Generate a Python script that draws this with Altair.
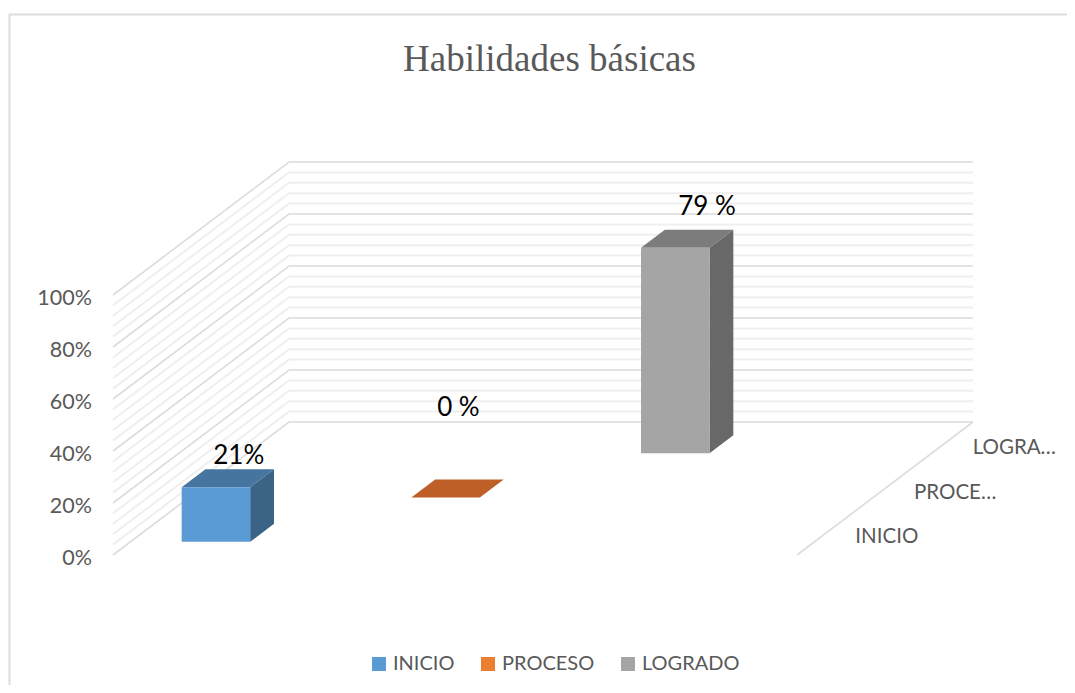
import altair as alt
import pandas as pd

# ---- chart values ----
series = ["INICIO", "PROCESO", "LOGRADO"]
values = [21, 0, 79]
value_labels = ["21%", "0 %", "79 %"]
depth_labels = ["INICIO", "PROCE…", "LOGRA…"]
major_ticks = [0, 20, 40, 60, 80, 100]
tick_labels = ["0%", "20%", "40%", "60%", "80%", "100%"]
minor_ticks = [v for v in range(0, 101, 4) if v % 20 != 0]
title_text = "Habilidades básicas"

front_colors = ["#5B9BD5", "#ED7D31", "#A5A5A5"]
top_colors = ["#46759F", "#BE5F27", "#7C7C7C"]
side_colors = ["#3A6385", "#9E4F20", "#686868"]

# ---- oblique projection of the 3D box ----
X0, Y0 = 113.0, 555.0        # front-left floor corner
FLOOR_W = 684.0              # width of the floor
DEPTH_DX, DEPTH_DY = 176.0, 133.0
PX_PER_PCT = 2.6
N_CELLS = 4
BAR_W = 68.5 / FLOOR_W       # in floor fractions
BAR_D = 18.0 / DEPTH_DY      # in depth fractions
N_DEPTH = 3


def proj(u, d, v):
    """u: 0..1 along the floor, d: 0..1 into depth, v: percent."""
    return X0 + u * FLOOR_W + d * DEPTH_DX, Y0 - d * DEPTH_DY - v * PX_PER_PCT


# ---- grid lines ----
def wall_lines(ticks, kind):
    rows = []
    for v in ticks:
        for (u, d) in [(0, 0), (0, 1), (1, 1)]:
            x, y = proj(u, d, v)
            rows.append(dict(x=x, y=y, line=f"{kind}{v}"))
    return pd.DataFrame(rows)


major_df = wall_lines(major_ticks, "M")
minor_df = wall_lines(minor_ticks, "m")
fx0, fy0 = proj(1, 1, 0)
fx1, fy1 = proj(1, 0, 0)
side_floor = pd.DataFrame([dict(x=fx0, y=fy0), dict(x=fx1, y=fy1)])

# ---- bar faces ----
front_rows, shade_rows, label_rows = [], [], []
for i, (name, val) in enumerate(zip(series, values)):
    cell_u = (i + 0.5) / N_CELLS
    u0, u1 = cell_u - BAR_W / 2, cell_u + BAR_W / 2
    d0 = (i + 0.5) / N_DEPTH - BAR_D / 2
    d1 = d0 + BAR_D
    # front
    for u in (u0, u1):
        x, yb = proj(u, d0, 0)
        _, yt = proj(u, d0, val)
        front_rows.append(dict(x=x, y=yt, y2=yb, series=name))
    # right side
    for d in (d0, d1):
        x, yb = proj(u1, d, 0)
        _, yt = proj(u1, d, val)
        shade_rows.append(dict(x=x, y=yt, y2=yb, face=f"s{i}", fill=side_colors[i]))
    # top, described as an area between its upper and lower edges
    xa, ya = proj(u0, d0, val)
    xb, yb = proj(u0, d1, val)
    xc, _ = proj(u1, d0, val)
    xd, _ = proj(u1, d1, val)
    for x, upper, lower in [(xa, ya, ya), (xb, yb, ya), (xc, yb, ya), (xd, yb, yb)]:
        shade_rows.append(dict(x=x, y=upper, y2=lower, face=f"t{i}", fill=top_colors[i]))

front_df = pd.DataFrame(front_rows)
shade_df = pd.DataFrame(shade_rows)

# ---- text positions ----
LABEL_SHIFT = [(10, 13), (0, 72), (19, 23)]
for i, (lab, val) in enumerate(zip(value_labels, values)):
    u = (i + 0.5) / N_CELLS
    d = (i + 0.5) / N_DEPTH + BAR_D / 2
    x, y = proj(u, d, val)
    sx, sy = LABEL_SHIFT[i]
    label_rows.append(dict(x=x + sx - 11, y=y - sy, text=lab))
label_df = pd.DataFrame(label_rows)

tick_df = pd.DataFrame(
    [dict(x=X0 - 21, y=proj(0, 0, v)[1] + 4, text=t) for v, t in zip(major_ticks, tick_labels)]
)
depth_df = pd.DataFrame(
    [
        dict(x=proj(1, (i + 0.5) / N_DEPTH, 0)[0] + 29, y=proj(1, (i + 0.5) / N_DEPTH, 0)[1] + 4, text=t)
        for i, t in enumerate(depth_labels)
    ]
)
FRAME_TOP = 14.5
frame_df = pd.DataFrame([dict(x=9.5, y=685, s=0), dict(x=9.5, y=FRAME_TOP, s=1), dict(x=1067, y=FRAME_TOP, s=2)])

# ---- shared scales: page pixels ----
X = alt.X("x:Q", axis=None, scale=alt.Scale(domain=[8, 1067], nice=False, zero=False))
Y = alt.Y("y:Q", axis=None, scale=alt.Scale(domain=[685, 8], nice=False, zero=False))

frame = alt.Chart(frame_df).mark_line(color="#DDDDDD", strokeWidth=2).encode(X, Y, order="s:Q")
minor = alt.Chart(minor_df).mark_line(color="#EFEFEF", strokeWidth=2).encode(X, Y, detail="line:N")
major = alt.Chart(major_df).mark_line(color="#DCDCDC", strokeWidth=1.6).encode(X, Y, detail="line:N")
floor = alt.Chart(side_floor).mark_line(color="#DCDCDC", strokeWidth=1.6).encode(X, Y)

shades = (
    alt.Chart(shade_df)
    .mark_area(interpolate="linear")
    .encode(X, Y, y2="y2:Q", detail="face:N", fill=alt.Fill("fill:N", scale=None))
)
fronts = (
    alt.Chart(front_df)
    .mark_area(interpolate="linear")
    .encode(
        X,
        Y,
        y2="y2:Q",
        fill=alt.Fill(
            "series:N",
            scale=alt.Scale(domain=series, range=front_colors),
            legend=alt.Legend(
                title=None,
                orient="none",
                legendX=361,
                legendY=646,
                direction="horizontal",
                symbolType="square",
                symbolSize=196,
                symbolStrokeWidth=0,
                labelFont="Lato",
                labelFontSize=20,
                labelColor="#595959",
                columnPadding=23,
                labelOffset=4,
            ),
        ),
    )
)

ticks_text = (
    alt.Chart(tick_df)
    .mark_text(font="Lato", fontSize=21.5, color="#595959", align="right", baseline="middle")
    .encode(X, Y, text="text:N")
)
depth_text = (
    alt.Chart(depth_df)
    .mark_text(font="Lato", fontSize=20.5, color="#595959", align="left", baseline="middle")
    .encode(X, Y, text="text:N")
)
value_text = (
    alt.Chart(label_df)
    .mark_text(font="Lato", fontSize=26, color="#000000", align="center", baseline="middle")
    .encode(X, Y, text="text:N")
)

chart = (
    alt.layer(frame, minor, major, floor, shades, fronts, ticks_text, depth_text, value_text)
    .properties(
        width=1059,
        height=677,
        padding=0,
        background="white",
        autosize=alt.AutoSizeParams(type="none"),
        title=alt.TitleParams(
            title_text,
            font="Liberation Serif",
            fontSize=37,
            fontWeight="normal",
            color="#595959",
            anchor="middle",
            dx=12,
            dy=75,
        ),
    )
    .configure_view(strokeWidth=0)
)

chart.save("out.html", embed_options={"renderer": "svg", "actions": False})
